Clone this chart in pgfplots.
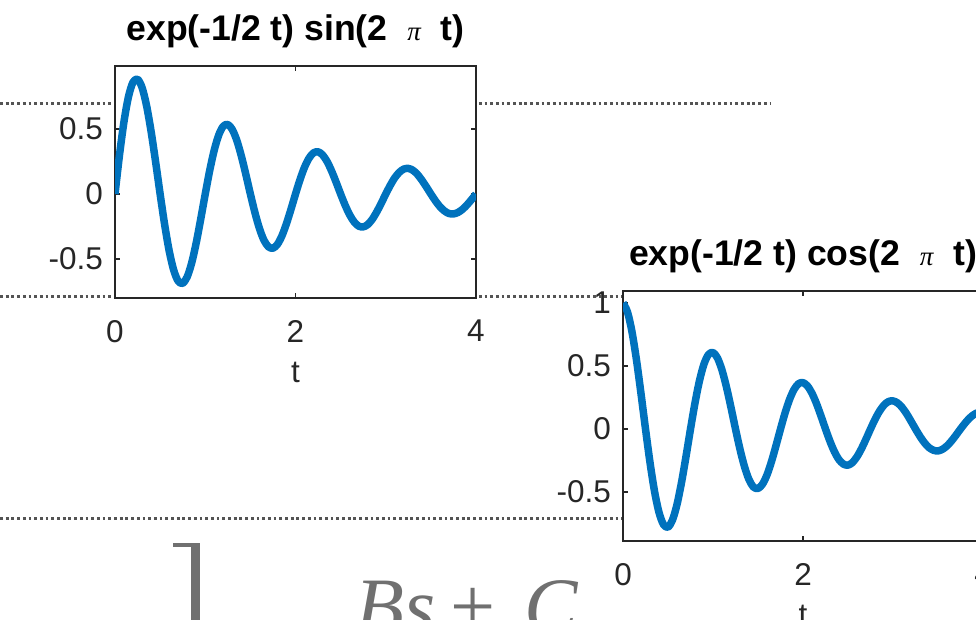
\documentclass[border=0pt]{standalone}
\usepackage{fontspec}
\setmainfont{Liberation Sans}
\newfontfamily\lserif{Liberation Serif}
\usepackage{pgfplots}
\usepackage{pgfplotstable}
\pgfplotsset{compat=1.18}
\definecolor{mblue}{rgb}{0,0.447,0.741}
\definecolor{axgray}{rgb}{0.15,0.15,0.15}
\definecolor{dotgray}{rgb}{0.33,0.33,0.33}
\definecolor{mathgray}{rgb}{0.44,0.44,0.44}
\newcommand{\tpi}{{\lserif\mdseries\itshape\fontsize{27}{27}\selectfont π}}
\pgfplotstableread{
t s c
0 0 1
0.05 0.301 0.928
0.10 0.559 0.770
0.15 0.751 0.546
0.20 0.861 0.280
0.25 0.883 0
0.30 0.819 -0.266
0.35 0.679 -0.494
0.40 0.481 -0.662
0.45 0.247 -0.759
0.50 0 -0.779
0.55 -0.235 -0.722
0.60 -0.436 -0.599
0.65 -0.585 -0.425
0.70 -0.670 -0.218
0.75 -0.687 0
0.80 -0.637 0.207
0.85 -0.529 0.384
0.90 -0.375 0.516
0.95 -0.192 0.591
1.00 0 0.607
1.05 0.183 0.563
1.10 0.339 0.467
1.15 0.455 0.331
1.20 0.522 0.170
1.25 0.535 0
1.30 0.496 -0.161
1.35 0.412 -0.299
1.40 0.292 -0.402
1.45 0.150 -0.461
1.50 0 -0.472
1.55 -0.142 -0.438
1.60 -0.264 -0.364
1.65 -0.355 -0.258
1.70 -0.406 -0.132
1.75 -0.417 0
1.80 -0.387 0.126
1.85 -0.321 0.233
1.90 -0.227 0.313
1.95 -0.117 0.359
2.00 0 0.368
2.05 0.111 0.341
2.10 0.206 0.283
2.15 0.276 0.201
2.20 0.317 0.103
2.25 0.325 0
2.30 0.301 -0.098
2.35 0.250 -0.182
2.40 0.177 -0.244
2.45 0.091 -0.279
2.50 0 -0.287
2.55 -0.086 -0.266
2.60 -0.160 -0.220
2.65 -0.215 -0.156
2.70 -0.247 -0.080
2.75 -0.253 0
2.80 -0.235 0.076
2.85 -0.195 0.141
2.90 -0.138 0.190
2.95 -0.071 0.218
3.00 0 0.223
3.05 0.067 0.207
3.10 0.125 0.172
3.15 0.167 0.122
3.20 0.192 0.062
3.25 0.197 0
3.30 0.183 -0.059
3.35 0.152 -0.110
3.40 0.107 -0.148
3.45 0.055 -0.169
3.50 0 -0.174
3.55 -0.052 -0.161
3.60 -0.097 -0.134
3.65 -0.130 -0.095
3.70 -0.150 -0.049
3.75 -0.153 0
3.80 -0.142 0.046
3.85 -0.118 0.086
3.90 -0.084 0.115
3.95 -0.043 0.132
4.00 0 0.135
}\damped
\pgfplotsset{
  mstyle/.style={
    scale only axis,
    /pgf/number format/assume math mode=true,
    axis background/.style={fill=white},
    axis line style={axgray, line width=1.3pt},
    tick style={axgray, line width=1.3pt},
    major tick length=5pt,
    tick align=inside,
    xmin=0, xmax=4, xtick={0,2,4},
    tick label style={font=\fontsize{31.5}{31.5}\selectfont, text=axgray, inner sep=0pt},
    yticklabel style={anchor=east, xshift=-12pt},
    xticklabel style={anchor=north, yshift=-22pt},
    xlabel={t},
    xlabel style={at={(axis description cs:0.5,0)}, anchor=north, inner sep=0pt, yshift=-64pt, font=\fontsize{31.5}{31.5}\selectfont, text=axgray},
    title style={at={(axis description cs:0.5,1)}, anchor=base, inner sep=0pt, yshift=19pt, font=\bfseries\fontsize{35.6}{35.6}\selectfont},
    every axis plot/.append style={mblue, line width=7.5pt, line join=round},
  }
}
\begin{document}
\begin{tikzpicture}
\path[use as bounding box] (0pt,0pt) rectangle (976pt,619pt);
\clip (0pt,0pt) rectangle (976pt,619pt);
\draw[dotgray, line width=3pt, dash pattern=on 2.8pt off 2.9pt] (0pt,515pt) -- (771pt,515pt);
\draw[dotgray, line width=3pt, dash pattern=on 2.8pt off 2.9pt] (0pt,322pt) -- (622pt,322pt);
\draw[dotgray, line width=3pt, dash pattern=on 2.8pt off 2.9pt] (0pt,101pt) -- (622pt,101pt);
\begin{axis}[mstyle, at={(115pt,321pt)}, anchor=south west, width=361pt, height=232pt,
  ymin=-0.8, ymax=0.985, ytick={-0.5,0,0.5},
  title={exp(-1/2 t) sin(2 \ \tpi\ \ t)}]
\addplot[smooth] table[x=t, y=s] {\damped};
\end{axis}
\begin{axis}[mstyle, at={(623pt,78pt)}, anchor=south west, width=360pt, height=250pt,
  ymin=-0.889, ymax=1.095, ytick={-0.5,0,0.5,1},
  title={exp(-1/2 t) cos(2 \ \tpi\ \ t)}]
\addplot[smooth] table[x=t, y=c] {\damped};
\end{axis}
\fill[mathgray] (173pt,72pt) rectangle (200pt,76pt);
\fill[mathgray] (191pt,-5pt) rectangle (200pt,76pt);
\begin{scope}[every node/.style={mathgray, anchor=base west, inner sep=0pt, font=\lserif\fontsize{80}{80}\selectfont}]
\node at (355pt,-14pt) {\itshape Bs};
\node at (450pt,-14pt) {+};
\node at (524pt,-14pt) {\itshape C};
\end{scope}
\end{tikzpicture}
\end{document}
